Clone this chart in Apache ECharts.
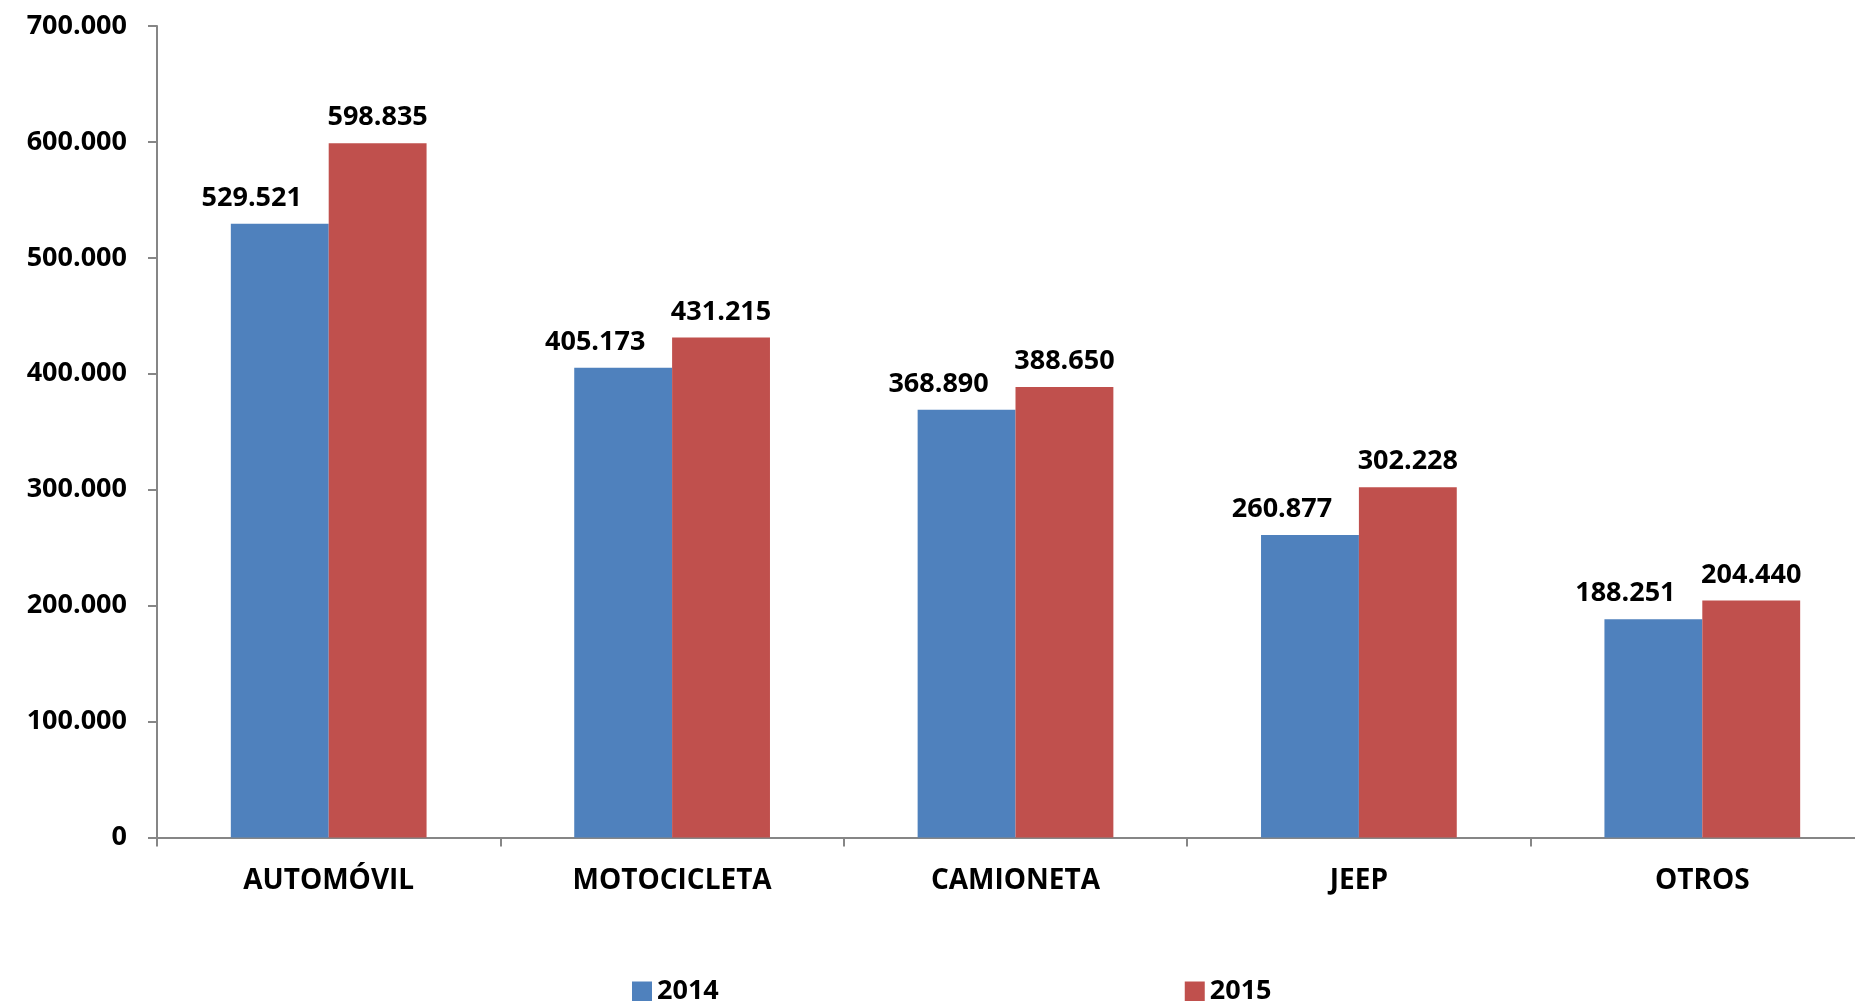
<!DOCTYPE html>
<html>
<head>
<meta charset="utf-8">
<script src="https://cdn.jsdelivr.net/npm/echarts@6/dist/echarts.min.js"></script>
<style>html,body{margin:0;padding:0;background:#fff;}#chart{width:1855px;height:1001px;}</style>
</head>
<body>
<div id="chart"></div>
<script>
var categories = ['AUTOMÓVIL', 'MOTOCICLETA', 'CAMIONETA', 'JEEP', 'OTROS'];
var seriesNames = ['2014', '2015'];
var values2014 = [529521, 405173, 368890, 260877, 188251];
var values2015 = [598835, 431215, 388650, 302228, 204440];
var yTicks = [0, 100000, 200000, 300000, 400000, 500000, 600000, 700000];

function fmt(v) {
  return String(Math.round(v)).replace(/\B(?=(\d{3})+(?!\d))/g, '.');
}

var FONT = '"Open Sans", "DejaVu Sans", sans-serif';
var chart = echarts.init(document.getElementById('chart'));
var labelStyle = {
  show: true, position: 'top', distance: 12,
  color: '#000', fontFamily: FONT, fontWeight: 'bold', fontSize: 27,
  formatter: function (p) { return fmt(p.value); }
};
chart.setOption({
  animation: false,
  backgroundColor: '#fff',
  grid: { left: 157, width: 1717, top: 26, height: 811.5, containLabel: false, outerBoundsMode: 'none' },
  legend: {
    left: 627, top: 973,
    itemWidth: 20, itemHeight: 20, itemGap: 466,
    icon: 'rect',
    textStyle: { color: '#000', fontFamily: FONT, fontWeight: 'bold', fontSize: 27 },
    data: seriesNames
  },
  xAxis: {
    type: 'category',
    data: categories,
    axisLine: { lineStyle: { color: '#868686', width: 2 } },
    axisTick: { show: true, length: 9, alignWithLabel: false, lineStyle: { color: '#868686', width: 2 } },
    axisLabel: { color: '#000', fontFamily: FONT, fontWeight: 'bold', fontSize: 28, margin: 30 }
  },
  yAxis: {
    type: 'value',
    min: yTicks[0], max: yTicks[yTicks.length - 1], interval: yTicks[1] - yTicks[0],
    axisLine: { show: true, lineStyle: { color: '#868686', width: 2 } },
    axisTick: { show: true, length: 9, lineStyle: { color: '#868686', width: 2 } },
    splitLine: { show: false },
    axisLabel: { color: '#000', fontFamily: FONT, fontWeight: 'bold', fontSize: 27, margin: 30,
      formatter: function (v) { return fmt(v); } }
  },
  series: [
    { name: seriesNames[0], type: 'bar', data: values2014, barGap: '0%', barCategoryGap: '43%',
      itemStyle: { color: '#4F81BD' },
      label: Object.assign({}, labelStyle, { offset: [-28, 0] }) },
    { name: seriesNames[1], type: 'bar', data: values2015, barGap: '0%', barCategoryGap: '43%',
      itemStyle: { color: '#C0504D' },
      label: labelStyle }
  ]
});
</script>
</body>
</html>
